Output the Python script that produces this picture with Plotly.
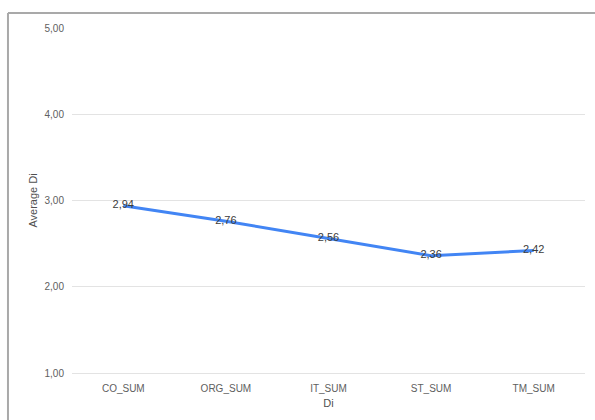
import plotly.graph_objects as go

# Average Di score per dimension
categories = ["CO_SUM", "ORG_SUM", "IT_SUM", "ST_SUM", "TM_SUM"]
averages = [2.94, 2.76, 2.56, 2.36, 2.42]
y_ticks = [1, 2, 3, 4, 5]

FONT = "Liberation Sans, Arial, sans-serif"

fig = go.Figure()
fig.add_trace(go.Scatter(
    x=categories,
    y=averages,
    mode="lines+text",
    line=dict(color="#4285F4", width=3),
    texttemplate="%{y:.2f}",
    textposition="middle center",
    textfont=dict(family=FONT, size=11, color="#3c3c3c"),
    hoverinfo="x+y",
    showlegend=False,
))

# Chart frame (left and top edges)
frame = dict(color="#a9a9a9", width=2)
fig.add_shape(type="line", xref="paper", yref="paper",
              x0=-0.1248, x1=-0.1248, y0=-0.3, y1=1.0435, line=frame)
fig.add_shape(type="line", xref="paper", yref="paper",
              x0=-0.1248, x1=1.1, y0=1.0435, y1=1.0435, line=frame)

fig.update_layout(
    width=595,
    height=420,
    margin=dict(l=72, r=10, t=28, b=47),
    paper_bgcolor="white",
    plot_bgcolor="white",
    separators=",.",
    font=dict(family=FONT, size=10, color="#606060"),
    xaxis=dict(
        type="category",
        range=[-0.5, 4.5],
        showgrid=False,
        showline=True,
        linecolor="#e3e3e3",
        linewidth=1,
        zeroline=False,
        ticks="",
        ticklabelstandoff=6,
        tickfont=dict(size=10, color="#606060"),
        title=dict(text="Di", font=dict(size=11, color="#505050"), standoff=6),
    ),
    yaxis=dict(
        range=[1, 5],
        tickvals=y_ticks,
        tickformat=".2f",
        showgrid=True,
        gridcolor="#e3e3e3",
        gridwidth=1,
        zeroline=False,
        showline=False,
        ticks="",
        ticklabelstandoff=7,
        tickfont=dict(size=10, color="#606060"),
        title=dict(text="Average Di", font=dict(size=11, color="#505050"), standoff=4),
    ),
)

fig.write_html("out.html")
